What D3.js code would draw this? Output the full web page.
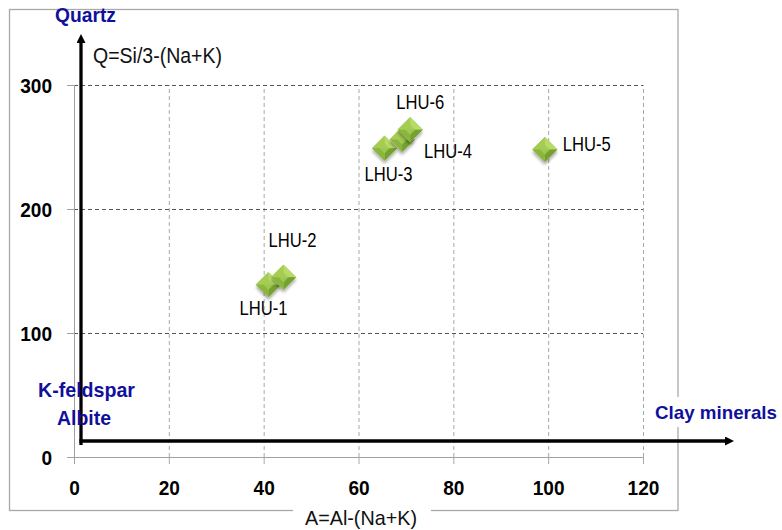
<!DOCTYPE html>
<html>
<head>
<meta charset="utf-8">
<script src="https://cdn.jsdelivr.net/npm/d3@7"></script>
<style>
  html, body { margin: 0; padding: 0; background: #fff; }
  svg { display: block; font-family: "Liberation Sans", Arial, sans-serif; }
</style>
</head>
<body>
<svg id="chart" width="782" height="530"></svg>
<script>
// ---- data ----
const sampleNames = ["LHU-1", "LHU-2", "LHU-3", "LHU-4", "LHU-5", "LHU-6"];
const aValues = [41.0, 44.2, 65.5, 69.2, 99.3, 70.9];     // A = Al-(Na+K)
const qValues = [139, 145, 249, 256, 248, 264];           // Q = Si/3-(Na+K)
const xTicks = [0, 20, 40, 60, 80, 100, 120];
const yTicks = [0, 100, 200, 300];

// ---- layout ----
const svg = d3.select("#chart");
const x = d3.scaleLinear().domain([0, 120]).range([74, 643]);
const y = d3.scaleLinear().domain([0, 300]).range([457, 85]);
const blue = "#10109c";

const defs = svg.append("defs");
const shadow = defs.append("filter").attr("id", "shadow")
  .attr("x", "-50%").attr("y", "-50%").attr("width", "200%").attr("height", "200%");
shadow.append("feDropShadow").attr("dx", 2).attr("dy", 2)
  .attr("stdDeviation", 1.4).attr("flood-color", "#000").attr("flood-opacity", 0.35);
const mk = defs.append("marker").attr("id", "arrow")
  .attr("markerUnits", "userSpaceOnUse").attr("viewBox", "0 0 10 10")
  .attr("refX", 0).attr("refY", 5).attr("markerWidth", 11).attr("markerHeight", 9)
  .attr("orient", "auto");
mk.append("path").attr("d", "M0,0 L10,5 L0,10 Z").attr("fill", "#000");

// outer frame
svg.append("rect").attr("x", 9.5).attr("y", 9.5).attr("width", 668.5).attr("height", 501)
  .attr("fill", "none").attr("stroke", "#a8a8a8").attr("stroke-width", 1.3);

// vertical gridlines
const gx = svg.append("g").attr("transform", `translate(0,${y(0)})`)
  .call(d3.axisBottom(x).tickValues(xTicks.filter(d => d > 0))
    .tickSize(-(y(0) - y(300))).tickFormat(""));
gx.select(".domain").remove();
gx.selectAll("line").attr("stroke", "#a8a8a8").attr("stroke-dasharray", "4,3");

// horizontal gridlines
const gy = svg.append("g").attr("transform", `translate(${x(0)},0)`)
  .call(d3.axisLeft(y).tickValues(yTicks.filter(d => d > 0))
    .tickSize(-(x(120) - x(0))).tickFormat(""));
gy.select(".domain").remove();
gy.selectAll("line").attr("stroke", "#555").attr("stroke-dasharray", "4,3");

function styleTickText(sel) {
  sel.attr("font-size", 20).attr("font-weight", "bold")
    .attr("fill", "#000").attr("font-family", "Liberation Sans, Arial, sans-serif")
    .attr("lengthAdjust", "spacingAndGlyphs")
    .attr("textLength", function () { return this.textContent.length * 10.6; });
}

// x axis
const xa = svg.append("g").attr("transform", `translate(0,${y(0)})`)
  .call(d3.axisBottom(x).tickValues(xTicks).tickSize(7).tickSizeOuter(0).tickPadding(19));
xa.select(".domain").attr("stroke", "#a0a0a0").attr("d", `M${x(0) - 7},0.5H${x(120)}`);
xa.selectAll("line").attr("stroke", "#a8a8a8");
xa.selectAll("text").call(styleTickText).attr("dy", "0.62em");

// y axis
const ya = svg.append("g").attr("transform", `translate(${x(0)},0)`)
  .call(d3.axisLeft(y).tickValues(yTicks).tickSize(7).tickSizeOuter(0).tickPadding(15));
ya.select(".domain").attr("stroke", "#a0a0a0").attr("d", `M0.5,${y(300)}V${y(0) + 7}`);
ya.selectAll("line").attr("stroke", "#a0a0a0");
ya.selectAll("text").call(styleTickText).attr("dy", "0.36em");

// x axis title with white gap in the frame
svg.append("rect").attr("x", 293).attr("y", 503).attr("width", 138).attr("height", 27).attr("fill", "#fff");
svg.append("text").attr("x", 305).attr("y", 525).attr("font-size", 21)
  .attr("textLength", 112).attr("lengthAdjust", "spacingAndGlyphs")
  .attr("fill", "#111").text("A=Al-(Na+K)");

// thick arrow axes
const ax0 = x(0) + 7, ay0 = y(0) - 16;
svg.append("line").attr("x1", ax0).attr("y1", ay0 + 4).attr("x2", ax0).attr("y2", 43)
  .attr("stroke", "#000").attr("stroke-width", 3.3).attr("marker-end", "url(#arrow)");
svg.append("line").attr("x1", ax0 - 1.6).attr("y1", ay0).attr("x2", 725).attr("y2", ay0)
  .attr("stroke", "#000").attr("stroke-width", 3.3).attr("marker-end", "url(#arrow)");

// axis annotations
svg.append("text").attr("x", 55).attr("y", 22).attr("font-size", 20.5).attr("font-weight", "bold")
  .attr("fill", blue).attr("textLength", 61).attr("lengthAdjust", "spacingAndGlyphs").text("Quartz");
svg.append("text").attr("x", 93).attr("y", 63).attr("font-size", 21.5)
  .attr("fill", "#111").attr("textLength", 129).attr("lengthAdjust", "spacingAndGlyphs").text("Q=Si/3-(Na+K)");
svg.append("text").attr("x", 38).attr("y", 397).attr("font-size", 20.5).attr("font-weight", "bold")
  .attr("fill", blue).attr("textLength", 97).attr("lengthAdjust", "spacingAndGlyphs").text("K-feldspar");
svg.append("text").attr("x", 57).attr("y", 425).attr("font-size", 20.5).attr("font-weight", "bold")
  .attr("fill", blue).attr("textLength", 54).attr("lengthAdjust", "spacingAndGlyphs").text("Albite");
svg.append("rect").attr("x", 652).attr("y", 397).attr("width", 128).attr("height", 30).attr("fill", "#fff");
svg.append("text").attr("x", 655).attr("y", 419).attr("font-size", 18.5).attr("font-weight", "bold")
  .attr("fill", blue).attr("textLength", 122).attr("lengthAdjust", "spacingAndGlyphs").text("Clay minerals");

// points
const points = sampleNames.map((n, i) => ({ name: n, a: aValues[i], q: qValues[i] }));
const half = 12.5;
const facets = [
  { d: `M0,0L${-half},0L0,${-half}Z`, fill: "#a4cd52" },
  { d: `M0,0L0,${-half}L${half},0Z`, fill: "#b8db68" },
  { d: `M0,0L${half},0L0,${half}Z`, fill: "#76a030" },
  { d: `M0,0L0,${half}L${-half},0Z`, fill: "#8ab640" }
];
const pg = svg.append("g").selectAll("g").data(points).join("g")
  .attr("transform", d => `translate(${x(d.a)},${y(d.q)})`);
pg.append("path")
  .attr("d", d3.symbol().type(d3.symbolSquare).size(2 * half * half))
  .attr("transform", "rotate(45)")
  .attr("fill", "#9cc550").attr("filter", "url(#shadow)");
facets.forEach(f => pg.append("path").attr("d", f.d).attr("fill", f.fill));
pg.append("path").attr("d", d3.symbol().type(d3.symbolSquare).size(2 * 5 * 5))
  .attr("transform", "rotate(45)").attr("fill", "#a2cb55").attr("opacity", 0.85);

// labels
const labelOffset = {
  "LHU-1": [-5, 23], "LHU-2": [9, -37], "LHU-3": [4, 26],
  "LHU-4": [46, 11], "LHU-5": [42, -6], "LHU-6": [10, -28]
};
svg.append("g").selectAll("text").data(points).join("text")
  .attr("x", d => x(d.a) + labelOffset[d.name][0])
  .attr("y", d => y(d.q) + labelOffset[d.name][1])
  .attr("text-anchor", "middle").attr("dy", "0.36em")
  .attr("font-size", 20).attr("fill", "#000")
  .attr("textLength", 48).attr("lengthAdjust", "spacingAndGlyphs")
  .text(d => d.name);
</script>
</body>
</html>
